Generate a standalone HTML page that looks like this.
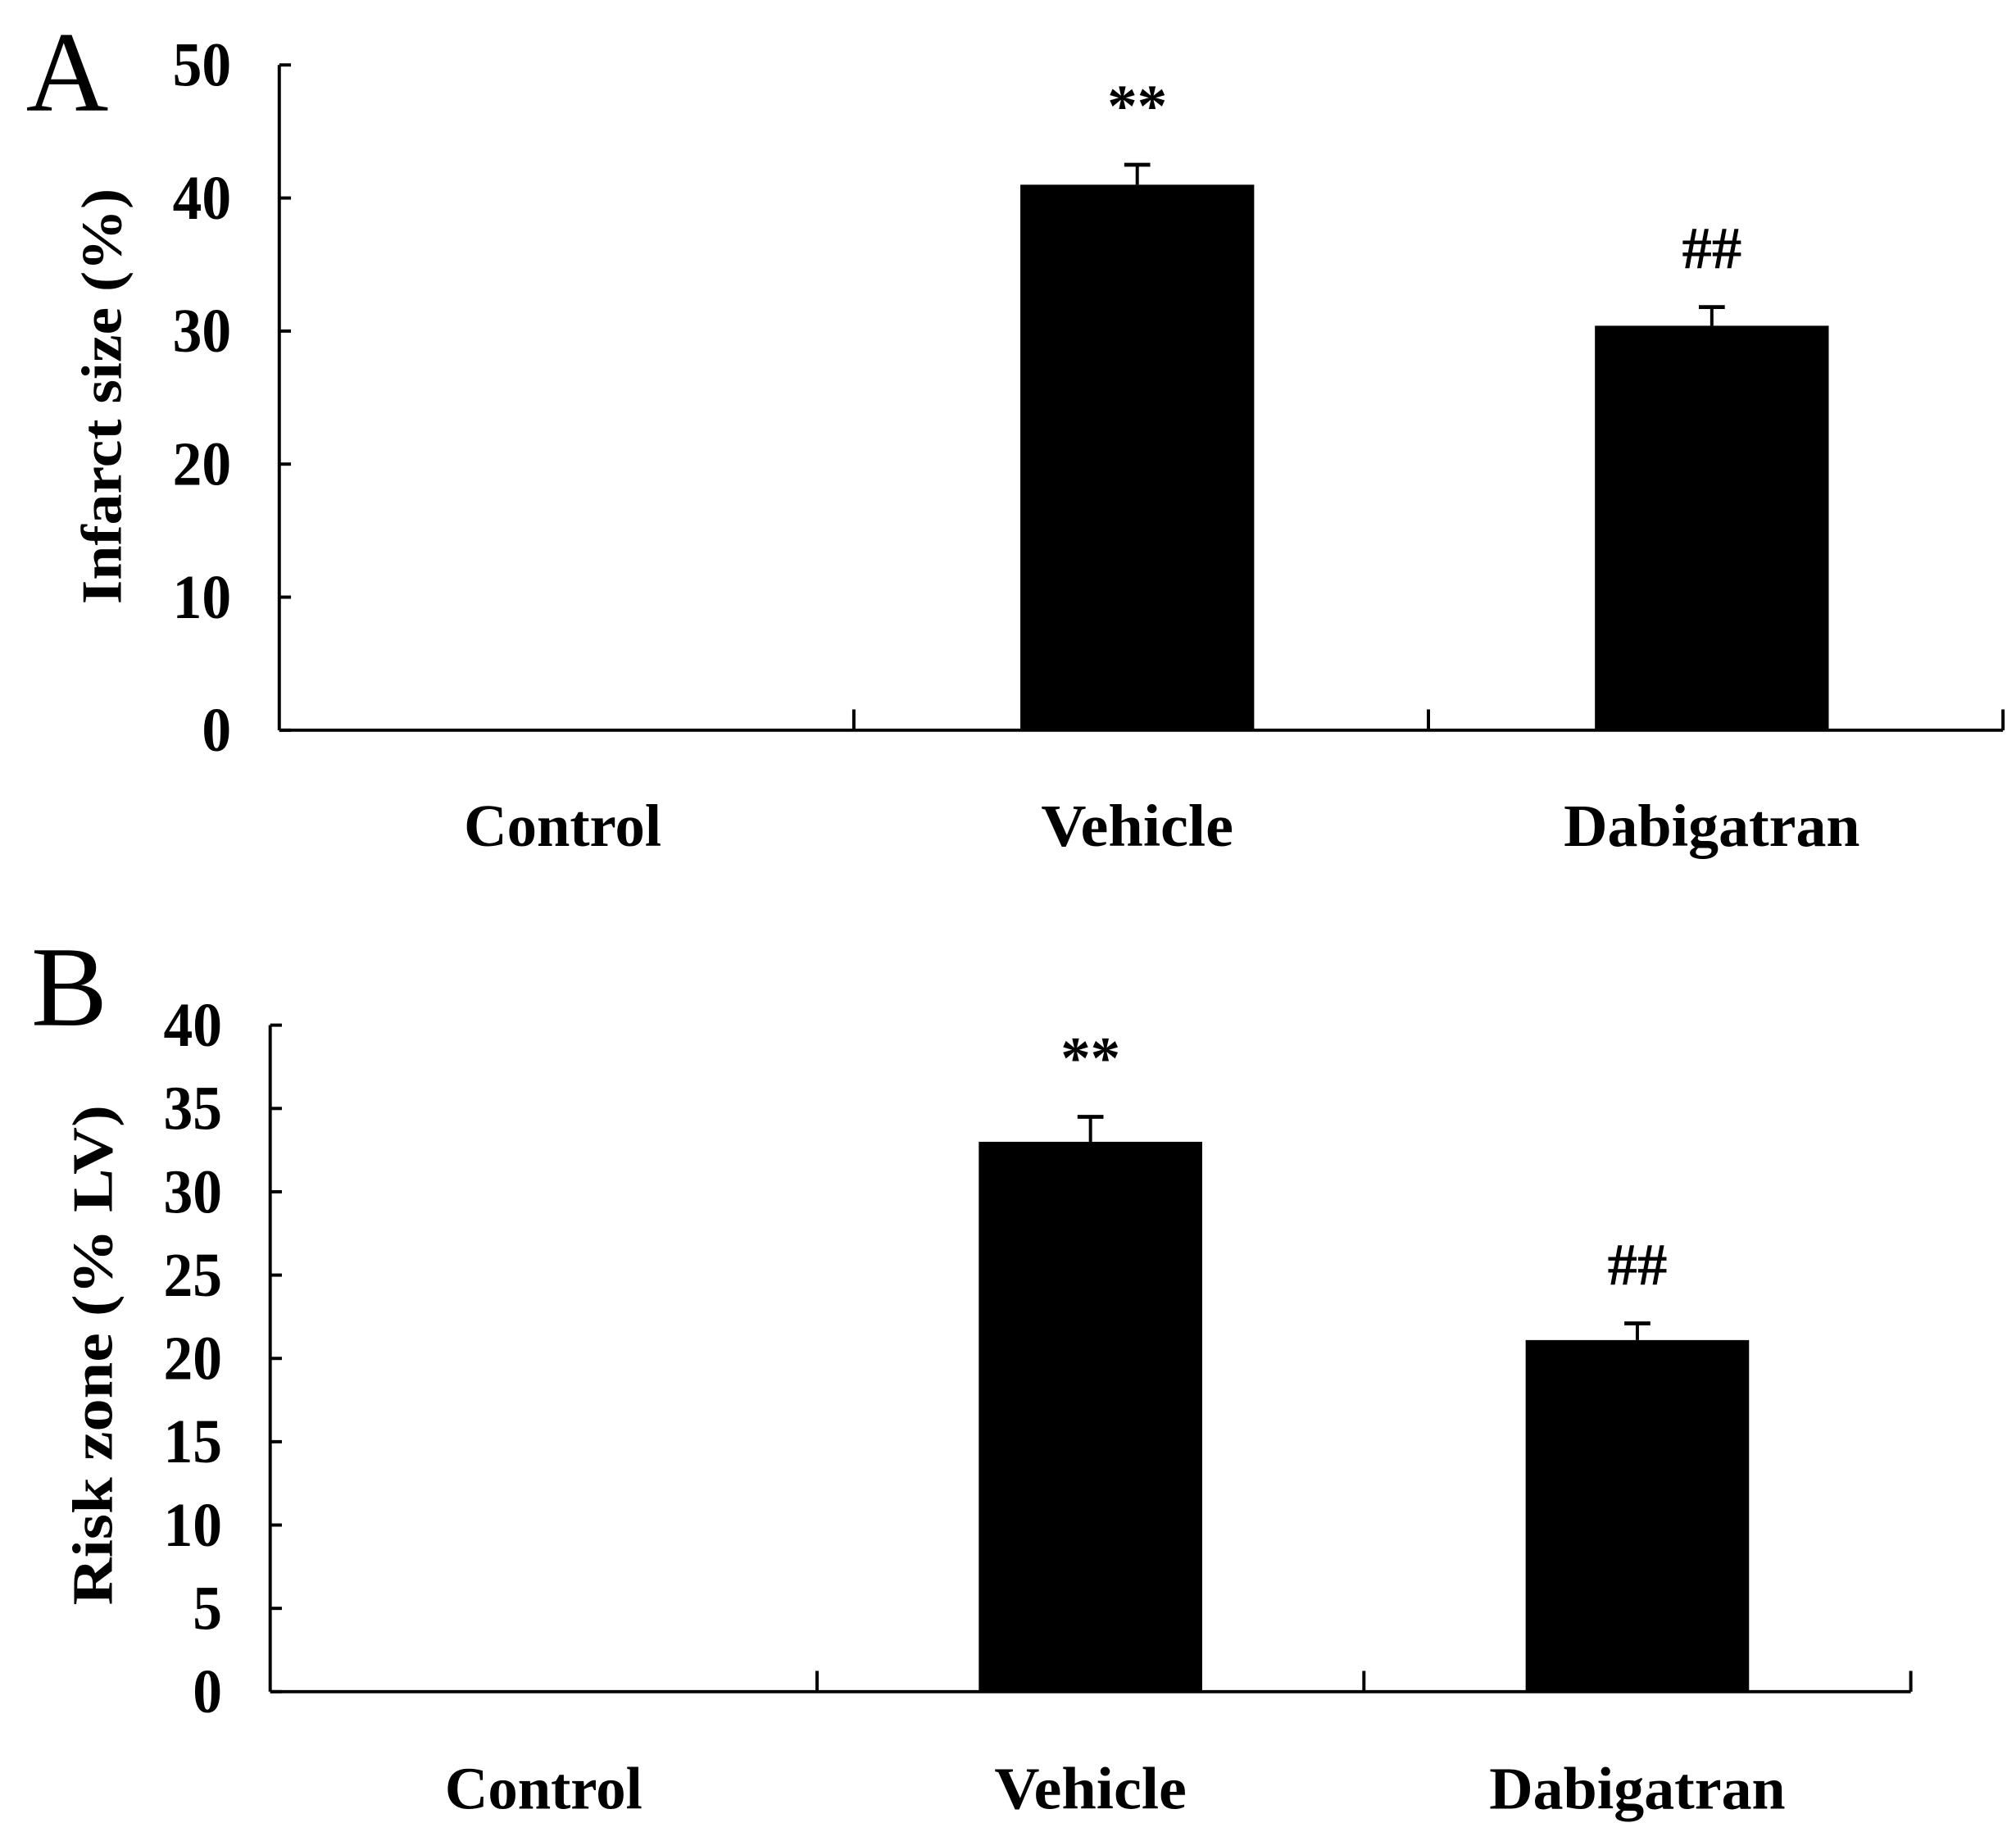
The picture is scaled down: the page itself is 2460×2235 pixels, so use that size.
<!DOCTYPE html>
<html><head><meta charset="utf-8"><style>
html,body{margin:0;padding:0;background:#fff;}
svg{display:block;}
text{font-family:"Liberation Serif",serif;font-weight:bold;fill:#000;}
</style></head><body>
<svg id="chart" width="2460" height="2235" viewBox="0 0 1552 1410" preserveAspectRatio="none" xmlns="http://www.w3.org/2000/svg"></svg>
<script>
const categories = ["Control", "Vehicle", "Dabigatran"];
const infarctValues = [0, 41.0, 30.4];
const infarctErrors = [0, 1.5, 1.4];
const infarctTicks = [0, 10, 20, 30, 40, 50];
const infarctMarks = ["", "**", "##"];
const riskValues = [0, 33.0, 21.1];
const riskErrors = [0, 1.5, 1.0];
const riskTicks = [0, 5, 10, 15, 20, 25, 30, 35, 40];
const riskMarks = ["", "**", "##"];

const svg = document.getElementById('chart');
const NS = 'http://www.w3.org/2000/svg';
function mk(tag, attrs, parent) {
  const e = document.createElementNS(NS, tag);
  for (const k in attrs) e.setAttribute(k, attrs[k]);
  (parent || svg).appendChild(e);
  return e;
}

function panel(cfg) {
  const g = mk('g', {});
  
  
  const yMax = cfg.ticks[cfg.ticks.length - 1];
  const y = v => cfg.y0 - (v / yMax) * (cfg.y0 - cfg.yTop);
  const catW = (cfg.xEnd - cfg.x0) / cfg.cats.length;
  const cx = i => cfg.x0 + catW * (i + 0.5) + cfg.shift;

  const lt = mk('text', {x: cfg.letterX, y: cfg.letterY, 'font-size': 88, style: 'font-weight:normal'}, g);
  lt.textContent = cfg.letter;
  
  

  const ya = mk('line', {x1: cfg.x0, y1: cfg.yTop, x2: cfg.x0, y2: cfg.y0, stroke: '#000', 'stroke-width': 2.5}, g);
  
  
  const xa = mk('line', {x1: cfg.x0, y1: cfg.y0, x2: cfg.xEnd, y2: cfg.y0, stroke: '#000', 'stroke-width': 2.5}, g);
  
  

  cfg.ticks.forEach(t => {
    const tk = mk('line', {x1: cfg.x0, y1: y(t), x2: cfg.x0 + 9, y2: y(t), stroke: '#000', 'stroke-width': 2.5}, g);
    
    
    const tl = mk('text', {x: cfg.x0 - 37, y: y(t) + 16, 'font-size': 48, 'text-anchor': 'end', transform: `translate(${cfg.x0 - 37},0) scale(0.94,1) translate(${-(cfg.x0 - 37)},0)`}, g);
    tl.textContent = t;
    
    
  });
  for (let i = 1; i <= cfg.cats.length; i++) {
    const xx = cfg.x0 + catW * i;
    const d = mk('line', {x1: xx, y1: cfg.y0, x2: xx, y2: cfg.y0 - 16, stroke: '#000', 'stroke-width': 2.5}, g);
    
    
  }

  const yt = mk('text', {x: 0, y: 0, 'font-size': 44, 'text-anchor': 'middle', textLength: cfg.titleLen, lengthAdjust: 'spacingAndGlyphs', transform: `translate(${cfg.titleX},${cfg.titleY}) rotate(-90)`}, g);
  yt.textContent = cfg.title;
  
  

  cfg.cats.forEach((c, i) => {
    const lab = mk('text', {x: cx(i), y: cfg.labelY, 'font-size': 46, 'text-anchor': 'middle', textLength: cfg.labelLens[i], lengthAdjust: 'spacingAndGlyphs'}, g);
    lab.textContent = c;
    
    
    const v = cfg.values[i];
    if (v > 0) {
      const top = y(v), et = y(v + cfg.errors[i]);
      const eb = mk('line', {x1: cx(i), y1: top, x2: cx(i), y2: et, stroke: '#000', 'stroke-width': 2.5}, g);
      
      
      const cap = mk('line', {x1: cx(i) - 10, y1: et, x2: cx(i) + 10, y2: et, stroke: '#000', 'stroke-width': 3}, g);
      
      
      const r = mk('rect', {x: cx(i) - cfg.barW / 2, y: top, width: cfg.barW, height: cfg.y0 - top, fill: '#000'}, g);
      
      
      const m = mk('text', {x: cx(i), y: et - 30, 'font-size': 46, 'text-anchor': 'middle'}, g);
      m.textContent = cfg.marks[i];
      
      
    }
  });
}

panel({name: 'panel-a', letter: 'A', letterX: 20, letterY: 85, x0: 215, xEnd: 1542, yTop: 50, y0: 562, shift: -3,
  ticks: infarctTicks, values: infarctValues, errors: infarctErrors, marks: infarctMarks, cats: categories,
  barW: 180, labelY: 651, labelLens: [152, 148, 228], title: 'Infarct size (%)', titleX: 93, titleY: 305, titleLen: 320});
panel({name: 'panel-b', letter: 'B', letterX: 24, letterY: 789, x0: 208, xEnd: 1471, yTop: 789, y0: 1302, shift: 0,
  ticks: riskTicks, values: riskValues, errors: riskErrors, marks: riskMarks, cats: categories,
  barW: 172, labelY: 1392, labelLens: [152, 148, 228], title: 'Risk zone (% LV)', titleX: 86, titleY: 1043, titleLen: 385});
</script>
</body></html>
